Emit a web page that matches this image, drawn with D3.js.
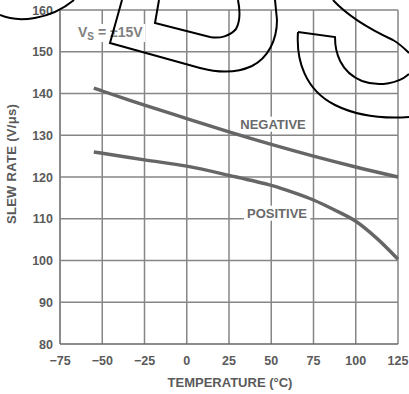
<!DOCTYPE html>
<html>
<head>
<meta charset="utf-8">
<script src="https://cdn.jsdelivr.net/npm/d3@7"></script>
<style>
  html, body { margin: 0; padding: 0; background: #fff; }
  svg { display: block; }
  text { font-family: "Liberation Sans", Arial, sans-serif; font-weight: bold; }
</style>
</head>
<body>
<svg id="chart" width="409" height="394"></svg>
<script>
// Slew rate vs temperature, Vs = ±15V
const negativeTemps = [-55, -50, -25, 0, 25, 50, 75, 100, 125];
const negativeSlew  = [141.3, 140.6, 137.2, 134.0, 130.8, 127.8, 125.0, 122.4, 120.0];
const positiveTemps = [-55, -50, -25, 0, 25, 50, 62.5, 75, 87.5, 100, 112.5, 125];
const positiveSlew  = [126.0, 125.7, 124.1, 122.6, 120.4, 118.0, 116.4, 114.5, 112.1, 109.4, 105.3, 100.3];

const xTicks = [-75, -50, -25, 0, 25, 50, 75, 100, 125];
const yTicks = [80, 90, 100, 110, 120, 130, 140, 150, 160];
const xTitle = "TEMPERATURE (°C)";
const yTitle = "SLEW RATE (V/\u03bcs)";

const svg = d3.select("#chart");
const x = d3.scaleLinear().domain([-75, 125]).range([60, 398]);
const y = d3.scaleLinear().domain([80, 160]).range([344, 10]);

const gridColor = "#868686";
const inkColor = "#5a5a5a";

// grid
const grid = svg.append("g");
grid.selectAll("line.v").data(xTicks).join("line")
  .attr("x1", d => x(d)).attr("x2", d => x(d))
  .attr("y1", y(80)).attr("y2", y(160))
  .attr("stroke", (d, i) => i === 0 ? "#666" : gridColor)
  .attr("stroke-width", 1.5);
grid.selectAll("line.h").data(yTicks).join("line")
  .attr("x1", x(-75)).attr("x2", x(125))
  .attr("y1", d => y(d)).attr("y2", d => y(d))
  .attr("stroke", (d, i) => i === 0 ? "#666" : gridColor)
  .attr("stroke-width", 1.5);

// tick labels
svg.append("g").selectAll("text").data(yTicks).join("text")
  .attr("x", 53).attr("y", d => y(d)).attr("dy", "0.36em")
  .attr("text-anchor", "end").attr("font-size", 12.5).attr("fill", inkColor)
  .text(d => d);
svg.append("g").selectAll("text").data(xTicks).join("text")
  .attr("x", d => x(d)).attr("y", 365)
  .attr("text-anchor", "middle").attr("font-size", 12.5).attr("fill", inkColor)
  .text(d => d < 0 ? "\u2212" + Math.abs(d) : d);

// axis titles
svg.append("text").attr("x", 230).attr("y", 387)
  .attr("text-anchor", "middle").attr("font-size", 13)
  .attr("fill", inkColor).text(xTitle);
svg.append("text").attr("transform", "translate(16,164) rotate(-90)")
  .attr("text-anchor", "middle").attr("font-size", 13).attr("letter-spacing", 0.3)
  .attr("fill", inkColor).text(yTitle);

// annotation boxes
function label(cx, cy, txt, size) {
  const t = svg.append("text").attr("x", cx).attr("y", cy).attr("dy", "0.36em")
    .attr("text-anchor", "middle").attr("font-size", size).attr("fill", "#6a6a6a").text(txt);
  const b = t.node().getBBox();
  svg.insert("rect", () => t.node())
    .attr("x", b.x - 3).attr("y", b.y).attr("width", b.width + 6).attr("height", b.height)
    .attr("fill", "#fff");
}
label(273, 124, "NEGATIVE", 13);
label(277, 213, "POSITIVE", 13);

const vs = svg.append("text").attr("x", 78).attr("y", 37).attr("font-size", 14).attr("fill", "#808080");
vs.append("tspan").text("V");
vs.append("tspan").attr("font-size", 10).attr("dy", 3).text("S");
vs.append("tspan").attr("dy", -3).text(" = \u00b115V");
const vb = vs.node().getBBox();
svg.insert("rect", () => vs.node()).attr("x", vb.x - 2).attr("y", vb.y)
  .attr("width", vb.width + 4).attr("height", vb.height).attr("fill", "#fff");

// curves
const line = d3.line().x(d => x(d[0])).y(d => y(d[1])).curve(d3.curveCatmullRom.alpha(0.5));
[[negativeTemps, negativeSlew], [positiveTemps, positiveSlew]].forEach(([ts, vals]) => {
  svg.append("path")
    .attr("d", line(ts.map((t, i) => [t, vals[i]])))
    .attr("fill", "none").attr("stroke", "#666").attr("stroke-width", 3.4)
    .attr("stroke-linecap", "butt");
});

// logo outline overlay
const logo = [
  "M0,15 C18,23 50,20 74,0",
  "M122,0 L110,43 L200,68 C215,72 235,74 252,66 C268,58 277,40 277,20 L275,0",
  "M159,0 L155,23 L210,37 C220,39 230,36 236,29 C240,22 240,10 238,0",
  "M333,0 C345,13 365,27 393,40 C400,44 405,49 409,53",
  "M298,32 L335,37 C335,52 340,72 362,81 C378,87 398,84 409,74",
  "M298,32 C296,60 305,90 335,105 C355,115 380,119 409,117"
];
svg.append("g").selectAll("path").data(logo).join("path")
  .attr("d", d => d).attr("fill", "none").attr("stroke", "#000").attr("stroke-width", 2);
</script>
</body>
</html>
